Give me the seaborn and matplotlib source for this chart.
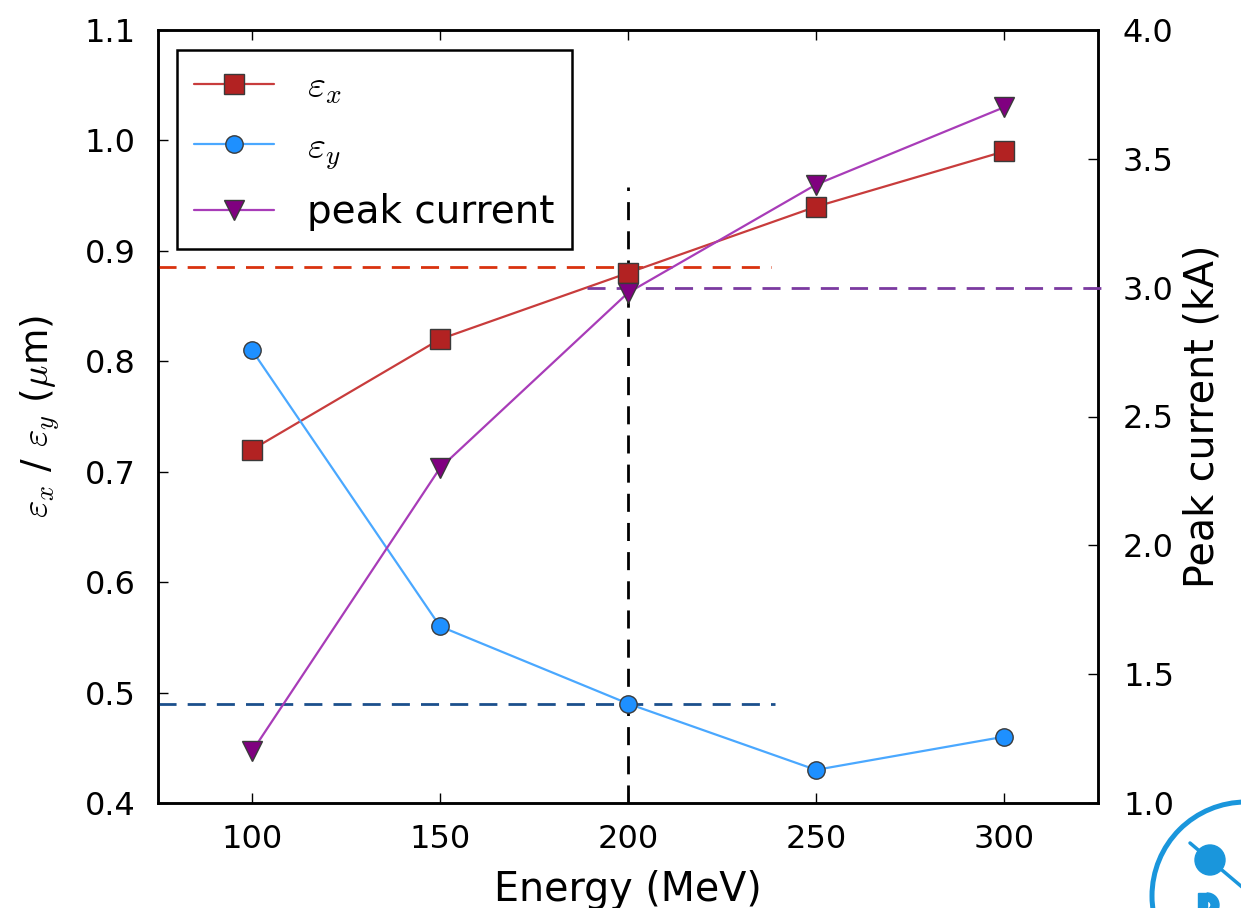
import matplotlib
matplotlib.use("Agg")
import matplotlib.pyplot as plt
import matplotlib.patches as patches
from matplotlib.lines import Line2D
import seaborn as sns
import pandas as pd

# ---- data ----
energy = [100, 150, 200, 250, 300]
eps_x = [0.72, 0.82, 0.88, 0.94, 0.99]
eps_y = [0.81, 0.56, 0.49, 0.43, 0.46]
peak_current = [1.20, 2.30, 2.98, 3.40, 3.70]

ref_eps_x = 0.885
ref_eps_y = 0.49
ref_peak = 3.0
ref_energy = 200

x_ticks = [100, 150, 200, 250, 300]
left_ticks = [0.4, 0.5, 0.6, 0.7, 0.8, 0.9, 1.0, 1.1]
right_ticks = [1.0, 1.5, 2.0, 2.5, 3.0, 3.5, 4.0]

sns.set_style("ticks")
plt.rcParams.update({
    "font.family": ["DejaVu Sans"],
    "mathtext.fontset": "cm",
    "text.color": "black",
    "axes.labelcolor": "black",
    "xtick.color": "black",
    "ytick.color": "black",
    "xtick.direction": "in",
    "ytick.direction": "in",
    "xtick.top": True,
    "xtick.major.size": 7,
    "ytick.major.size": 7,
    "xtick.major.width": 1.0,
    "ytick.major.width": 1.0,
    "axes.linewidth": 1.8,
    "axes.edgecolor": "black",
})

df = pd.DataFrame({"energy": energy, "ex": eps_x, "ey": eps_y, "peak": peak_current})

fig = plt.figure(figsize=(12.41, 9.08), dpi=100)
ax = fig.add_axes([158 / 1241, 1 - 803 / 908, (1098 - 158) / 1241, (803 - 30) / 908])
ax2 = ax.twinx()

sns.lineplot(data=df, x="energy", y="ex", ax=ax, color="#c83c3c", lw=1.6,
             marker="s", markersize=14, markerfacecolor="#b22222",
             markeredgecolor="#3a3a3a", markeredgewidth=1.0,
             label=r"$\varepsilon_x$", zorder=5)
sns.lineplot(data=df, x="energy", y="ey", ax=ax, color="#4aa8ff", lw=1.6,
             marker="o", markersize=12.5, markerfacecolor="#1e90ff",
             markeredgecolor="#3a3a3a", markeredgewidth=1.0,
             label=r"$\varepsilon_y$", zorder=5)
sns.lineplot(data=df, x="energy", y="peak", ax=ax2, color="#a83cb8", lw=1.6,
             marker="v", markersize=14.5, markerfacecolor="#800080",
             markeredgecolor="#3a3a3a", markeredgewidth=1.0,
             label="peak current", zorder=5)

dash = (0, (6.5, 4))
ax.hlines(ref_eps_x, 75, 238, colors="#d9320e", linestyles=dash, lw=2, zorder=3)
ax.hlines(ref_eps_y, 75, 239, colors="#1b4f8c", linestyles=dash, lw=2, zorder=3)
ax.vlines(ref_energy, 0.4, 0.958, colors="black", linestyles=dash, lw=2, zorder=3)
ax2.hlines(ref_peak, 189, 327, colors="#7b3aa0", linestyles=dash, lw=2, zorder=3,
           clip_on=False)

ax.set_xlim(75, 325)
ax.set_ylim(0.4, 1.1)
ax2.set_ylim(1.0, 4.0)
ax.set_xticks(x_ticks)
ax.set_yticks(left_ticks)
ax2.set_yticks(right_ticks)
ax.set_yticklabels([f"{v:.1f}" for v in left_ticks])
ax2.set_yticklabels([f"{v:.1f}" for v in right_ticks])
ax.tick_params(axis="x", labelsize=23, pad=15)
ax.tick_params(axis="y", labelsize=23, pad=16, right=False)
ax2.tick_params(axis="y", labelsize=23, pad=18)

ax.set_xlabel("Energy (MeV)", fontsize=28.5, labelpad=11)
ax.set_ylabel(r"$\varepsilon_x$ / $\varepsilon_y$ ($\mu$m)", fontsize=27, labelpad=16)
ax2.set_ylabel("Peak current (kA)", fontsize=28.5, labelpad=6)

for a in (ax, ax2):
    for s in a.spines.values():
        s.set_visible(True)
        s.set_linewidth(1.8)
        s.set_color("black")

h1, l1 = ax.get_legend_handles_labels()
h2, l2 = ax2.get_legend_handles_labels()
if ax.get_legend():
    ax.get_legend().remove()
if ax2.get_legend():
    ax2.get_legend().remove()
leg = ax2.legend(h1 + h2, l1 + l2, loc="upper left", bbox_to_anchor=(0.02, 0.974),
                 borderaxespad=0, fontsize=28, frameon=True, fancybox=False,
                 edgecolor="black", framealpha=1, handlelength=2.06,
                 handletextpad=0.85, borderpad=0.45, labelspacing=0.56)
leg.get_frame().set_linewidth(1.8)
leg.set_zorder(10)

# partial logo in the corner (pixel-based inches, origin bottom-left)
logo_c = "#1a96dc"
fig.add_artist(patches.Circle((12.46, 0.12), 0.94, transform=fig.dpi_scale_trans,
                              fill=False, edgecolor=logo_c, lw=3.6))
fig.add_artist(Line2D([11.90, 12.42], [0.65, 0.21], transform=fig.dpi_scale_trans,
                      color=logo_c, lw=2.5))
fig.add_artist(patches.Circle((12.10, 0.48), 0.15, transform=fig.dpi_scale_trans,
                              color=logo_c))
fig.add_artist(patches.Rectangle((11.98, -0.1), 0.09, 0.25,
                                 transform=fig.dpi_scale_trans, color=logo_c))
fig.add_artist(patches.Wedge((12.07, 0.03), 0.12, -90, 90, width=0.08,
                             transform=fig.dpi_scale_trans, color=logo_c))

fig.savefig("out.png", dpi=100)
